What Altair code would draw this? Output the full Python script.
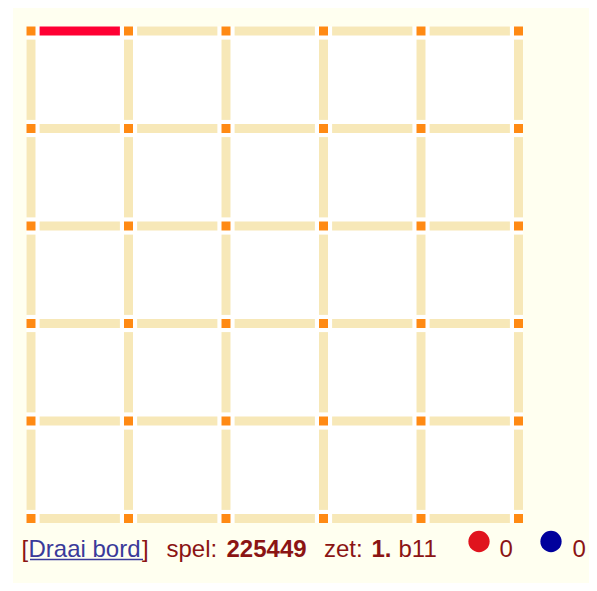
import altair as alt
import pandas as pd

# ---- game data ----
n_boxes = 5                      # 5x5 boxes -> 6x6 dots
played_h = [(0, 0, "red")]       # (row, col, player) horizontal lines played
played_v = []                    # (row, col, player) vertical lines played
players = ["red", "blue"]
scores = [0, 0]
game_id = "225449"
move_no = "1."
move = "b11"

# ---- style ----
CREAM = "#FFFFF0"
LINE = "#F7E8B8"
DOT = "#FF8A14"
PLAYER_LINE = {"red": "#FF0033", "blue": "#0000A0"}
PLAYER_DISC = {"red": "#E0141E", "blue": "#00009C"}
TXT = "#8B1414"
LINK = "#3A3A9A"
FONT = "Liberation Sans"

W, H = 581, 575
SP = 97.5          # px between dots
OFF = 23.0         # px offset of first dot in view
x_dom = [-OFF / SP, (W - OFF) / SP]
y_dom = [-OFF / SP, (H - OFF) / SP]
xs = alt.Scale(domain=x_dom, range=[0, W], nice=False, zero=False)
ys = alt.Scale(domain=y_dom, range=[0, H], nice=False, zero=False)
GAP = 8.6 / SP     # gap from dot centre to line end
HALF = 4.6 / SP

n = n_boxes + 1
dots = pd.DataFrame([{"c": c, "r": r} for r in range(n) for c in range(n)])

lines = []
played_h_map = {(r, c): p for r, c, p in played_h}
played_v_map = {(r, c): p for r, c, p in played_v}
for r in range(n):
    for c in range(n_boxes):
        p = played_h_map.get((r, c), "none")
        lines.append({"x": c + GAP, "x2": c + 1 - GAP, "y": r, "y2": r, "p": p})
for r in range(n_boxes):
    for c in range(n):
        p = played_v_map.get((r, c), "none")
        lines.append({"x": c, "x2": c, "y": r + GAP, "y2": r + 1 - GAP, "p": p})
lines = pd.DataFrame(lines)

X = lambda f: alt.X(f, type="quantitative", scale=xs, axis=None)
Y = lambda f: alt.Y(f, type="quantitative", scale=ys, axis=None)

one = pd.DataFrame({"a": [0]})

left_white = alt.Chart(one).mark_rect(color="white").encode(
    x=alt.value(0), x2=alt.value(5), y=alt.value(0), y2=alt.value(H))

board = alt.Chart(pd.DataFrame({"x": [-HALF], "x2": [n_boxes + HALF],
                                "y": [-HALF], "y2": [n_boxes + HALF]})).mark_rect(
    color="white").encode(x=X("x"), x2="x2", y=Y("y"), y2="y2")

line_layer = alt.Chart(lines).mark_rule(strokeWidth=9, strokeCap="butt").encode(
    x=X("x"), x2="x2", y=Y("y"), y2="y2",
    color=alt.Color("p:N", scale=alt.Scale(domain=["none", "red", "blue"],
                                           range=[LINE, PLAYER_LINE["red"], PLAYER_LINE["blue"]]),
                    legend=None))

dot_layer = alt.Chart(dots).mark_square(size=81, color=DOT, opacity=1, filled=True).encode(
    x=X("c"), y=Y("r"))

# ---- status line ----
BASE = 557 - 8
pieces = [
    ("[", "normal", TXT, 21.5),
    ("Draai bord", "normal", LINK, 28.5),
    ("]", "normal", TXT, 142),
    ("spel:", "normal", TXT, 166.5),
    (game_id, "bold", TXT, 226.5),
    ("zet:", "normal", TXT, 324),
    (move_no, "bold", TXT, 371.5),
    (move, "normal", TXT, 398.5),
    (str(scores[0]), "normal", TXT, 499.5),
    (str(scores[1]), "normal", TXT, 572.5),
]
texts = []
for s, w, col, px in pieces:
    texts.append(alt.Chart(one).mark_text(
        align="left", baseline="alphabetic", font=FONT, fontSize=24,
        fontWeight=w, color=col).encode(
        x=alt.value(px - 8), y=alt.value(BASE), text=alt.value(s)))

underline = alt.Chart(one).mark_rule(color=LINK, strokeWidth=1.5).encode(
    x=alt.value(30 - 8), x2=alt.value(143 - 8), y=alt.value(559.5 - 8))

discs = []
for p, cx in zip(players, [479, 551]):
    discs.append(alt.Chart(one).mark_circle(size=452, color=PLAYER_DISC[p], opacity=1).encode(
        x=alt.value(cx - 8), y=alt.value(541.5 - 8)))

chart = alt.layer(left_white, board, line_layer, dot_layer, underline, *texts, *discs).properties(
    width=W, height=H, padding=0, autosize=alt.AutoSizeParams(type="none"),
    background=CREAM
).configure_view(stroke=None)

chart.save("out.html", embed_options={"renderer": "svg", "actions": False})
